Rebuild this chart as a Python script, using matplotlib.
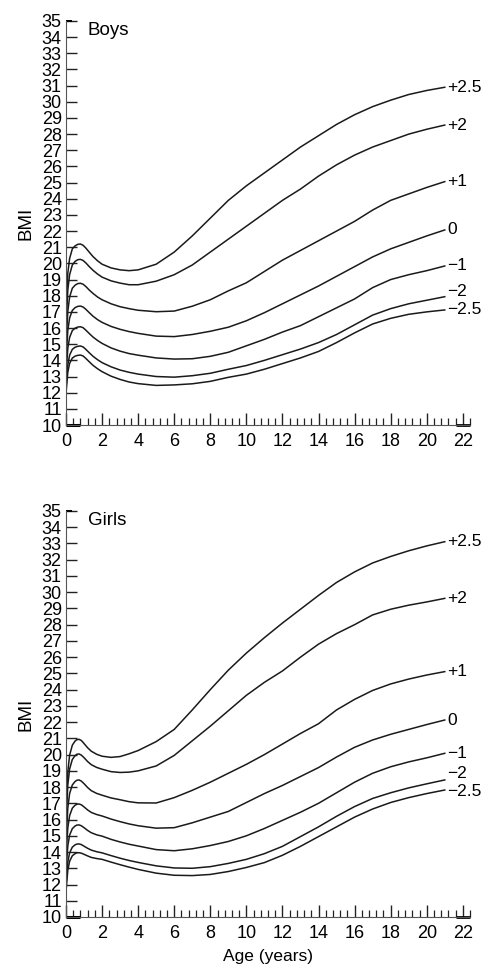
import matplotlib
matplotlib.use("Agg")
import matplotlib.pyplot as plt
from matplotlib.ticker import MultipleLocator

plt.rcParams['font.family'] = ['Liberation Sans', 'DejaVu Sans']

# ages (years) at which the curves were read
boys_age = [0, 0.1, 0.2, 0.35, 0.5, 0.65, 0.8, 0.95, 1.1, 1.3, 1.5, 1.75, 2, 2.5, 3, 3.5, 4,
            5, 6, 7, 8, 9, 10, 11, 12, 13, 14, 15, 16, 17, 18, 19, 20, 21]
girls_age = [0, 0.1, 0.2, 0.35, 0.5, 0.6, 0.72, 0.85, 1.0, 1.2, 1.4, 1.7, 2, 2.5, 3, 3.5, 4,
             5, 6, 7, 8, 9, 10, 11, 12, 13, 14, 15, 16, 17, 18, 19, 20, 21]

sds = ['+2.5', '+2', '+1', '0', '\u22121', '\u22122', '\u22122.5']

boys = [
    [17.2, 19.4, 20.3, 20.9, 21.08, 21.18, 21.2, 21.12, 20.95, 20.68, 20.42, 20.16, 19.95, 19.72, 19.6, 19.55, 19.6,
     19.95, 20.7, 21.7, 22.8, 23.9, 24.8, 25.6, 26.4, 27.2, 27.9, 28.6, 29.2, 29.7, 30.1, 30.45, 30.7, 30.9],
    [16.0, 18.35, 19.3, 19.9, 20.12, 20.23, 20.25, 20.18, 20.03, 19.79, 19.57, 19.34, 19.15, 18.92, 18.78, 18.68, 18.68,
     18.9, 19.3, 19.9, 20.7, 21.5, 22.3, 23.1, 23.9, 24.6, 25.4, 26.1, 26.7, 27.2, 27.6, 28.0, 28.3, 28.56],
    [14.9, 17.03, 17.92, 18.46, 18.65, 18.75, 18.77, 18.71, 18.57, 18.34, 18.14, 17.92, 17.75, 17.5, 17.32, 17.2, 17.1,
     17.01, 17.05, 17.35, 17.75, 18.3, 18.8, 19.5, 20.2, 20.8, 21.4, 22.0, 22.6, 23.3, 23.9, 24.3, 24.7, 25.06],
    [14.0, 15.85, 16.62, 17.09, 17.26, 17.34, 17.36, 17.3, 17.16, 16.94, 16.73, 16.52, 16.35, 16.1, 15.92, 15.78, 15.67,
     15.5, 15.47, 15.6, 15.8, 16.05, 16.45, 16.95, 17.5, 18.05, 18.6, 19.2, 19.8, 20.4, 20.9, 21.3, 21.7, 22.07],
    [13.1, 14.74, 15.42, 15.84, 15.99, 16.06, 16.08, 16.02, 15.87, 15.65, 15.44, 15.23, 15.05, 14.77, 14.57, 14.42, 14.32,
     14.15, 14.08, 14.1, 14.25, 14.5, 14.9, 15.3, 15.75, 16.15, 16.7, 17.25, 17.8, 18.5, 19.0, 19.3, 19.55, 19.84],
    [12.3, 13.72, 14.32, 14.68, 14.81, 14.87, 14.89, 14.83, 14.68, 14.46, 14.25, 14.04, 13.86, 13.6, 13.4, 13.26, 13.15,
     13.0, 12.96, 13.05, 13.2, 13.45, 13.68, 14.0, 14.35, 14.7, 15.1, 15.6, 16.2, 16.8, 17.2, 17.5, 17.72, 17.94],
    [11.95, 13.26, 13.81, 14.14, 14.26, 14.31, 14.33, 14.27, 14.12, 13.9, 13.69, 13.48, 13.3, 13.02, 12.82, 12.66, 12.56,
     12.45, 12.48, 12.55, 12.7, 12.95, 13.15, 13.45, 13.8, 14.15, 14.55, 15.1, 15.7, 16.25, 16.6, 16.85, 17.0, 17.12],
]

girls = [
    [16.5, 18.94, 19.96, 20.58, 20.83, 20.92, 20.94, 20.87, 20.68, 20.42, 20.21, 20.02, 19.9, 19.83, 19.88, 20.05, 20.25,
     20.8, 21.55, 22.75, 24.0, 25.2, 26.25, 27.2, 28.1, 28.95, 29.8, 30.6, 31.25, 31.8, 32.2, 32.55, 32.85, 33.11],
    [15.8, 18.13, 19.11, 19.7, 19.93, 20.02, 20.04, 19.97, 19.81, 19.57, 19.38, 19.21, 19.1, 18.95, 18.9, 18.92, 19.0,
     19.3, 19.95, 20.85, 21.75, 22.7, 23.65, 24.45, 25.15, 26.0, 26.8, 27.45, 28.0, 28.6, 28.95, 29.2, 29.4, 29.62],
    [14.6, 16.71, 17.6, 18.13, 18.34, 18.42, 18.44, 18.37, 18.21, 17.97, 17.78, 17.61, 17.5, 17.33, 17.22, 17.1, 17.03,
     17.02, 17.35, 17.8, 18.3, 18.85, 19.4, 20.0, 20.65, 21.3, 21.9, 22.75, 23.4, 23.95, 24.35, 24.65, 24.9, 25.11],
    [13.7, 15.49, 16.24, 16.7, 16.88, 16.94, 16.96, 16.91, 16.78, 16.59, 16.44, 16.31, 16.22, 16.03, 15.87, 15.73, 15.62,
     15.47, 15.5, 15.8, 16.15, 16.5, 17.05, 17.6, 18.1, 18.65, 19.2, 19.85, 20.45, 20.9, 21.25, 21.55, 21.85, 22.13],
    [12.8, 14.38, 15.04, 15.44, 15.6, 15.66, 15.67, 15.62, 15.5, 15.33, 15.19, 15.06, 14.98, 14.78, 14.62, 14.48, 14.37,
     14.15, 14.08, 14.2, 14.4, 14.65, 15.0, 15.45, 15.95, 16.45, 17.0, 17.65, 18.3, 18.85, 19.25, 19.55, 19.8, 20.08],
    [12.0, 13.38, 13.95, 14.3, 14.44, 14.49, 14.5, 14.46, 14.36, 14.23, 14.12, 14.02, 13.95, 13.78, 13.62, 13.48, 13.36,
     13.15, 13.02, 13.0, 13.1, 13.3, 13.55, 13.9, 14.35, 14.95, 15.55, 16.2, 16.8, 17.3, 17.65, 17.95, 18.2, 18.44],
    [11.56, 12.88, 13.43, 13.77, 13.9, 13.95, 13.96, 13.93, 13.86, 13.76, 13.67, 13.6, 13.55, 13.38, 13.22, 13.07, 12.93,
     12.7, 12.57, 12.55, 12.62, 12.8, 13.05, 13.35, 13.8, 14.35, 14.95, 15.55, 16.15, 16.65, 17.05, 17.35, 17.6, 17.82],
]

# small vertical nudges so the -2 and -2.5 labels do not collide
boys_label_shift = [0, 0, 0, 0, 0, 0.3, 0]
girls_label_shift = [0, 0, 0, 0, 0, 0.4, -0.08]

fig = plt.figure(figsize=(4.87, 9.64), dpi=100)
ax1 = fig.add_axes([66 / 487, 1 - 425 / 964, 404 / 487, 404 / 964])
ax2 = fig.add_axes([66 / 487, 1 - 917 / 964, 404 / 487, 406 / 964])


def draw(ax, age, curves, shifts, title):
    for vals, lab, dy in zip(curves, sds, shifts):
        ax.plot(age, vals, color='#1a1a1a', lw=1.1)
        ax.text(age[-1] + 0.12, vals[-1] + dy, lab, fontsize=12.5, va='center', ha='left')
    ax.set_xlim(0, 22.4)
    ax.set_ylim(10, 35)
    ax.set_xticks(range(0, 23, 2))
    ax.xaxis.set_minor_locator(MultipleLocator(0.4))
    ax.set_yticks(range(10, 36))
    ax.spines['top'].set_visible(False)
    ax.spines['right'].set_visible(False)
    ax.spines['left'].set_color('#555555')
    ax.spines['bottom'].set_color('#555555')
    ax.tick_params(axis='y', direction='in', length=8, width=1.0, labelsize=13, pad=3, color='#222222')
    ax.tick_params(axis='x', which='major', direction='in', length=8.5, width=1.0, labelsize=13,
                   pad=6, color='#222222')
    ax.tick_params(axis='x', which='minor', direction='in', length=5, width=0.9, color='#222222')
    ax.set_ylabel('BMI', fontsize=13.5, labelpad=5)
    ax.text(1.2, 34.4, title, fontsize=13.5, va='center', ha='left')
    # heavier strokes at the axis corners
    ax.plot([0, 0.8], [10, 10], color='black', lw=2.2, clip_on=False, solid_capstyle='butt')
    ax.plot([21.6, 22.4], [10, 10], color='black', lw=2.0, clip_on=False, solid_capstyle='butt')
    ax.plot([0, 0.35], [35, 35], color='black', lw=1.4, clip_on=False, solid_capstyle='butt')


draw(ax1, boys_age, boys, boys_label_shift, 'Boys')
draw(ax2, girls_age, girls, girls_label_shift, 'Girls')
ax2.set_xlabel('Age (years)', fontsize=12.5, labelpad=5)

fig.savefig('out.png', dpi=100)
